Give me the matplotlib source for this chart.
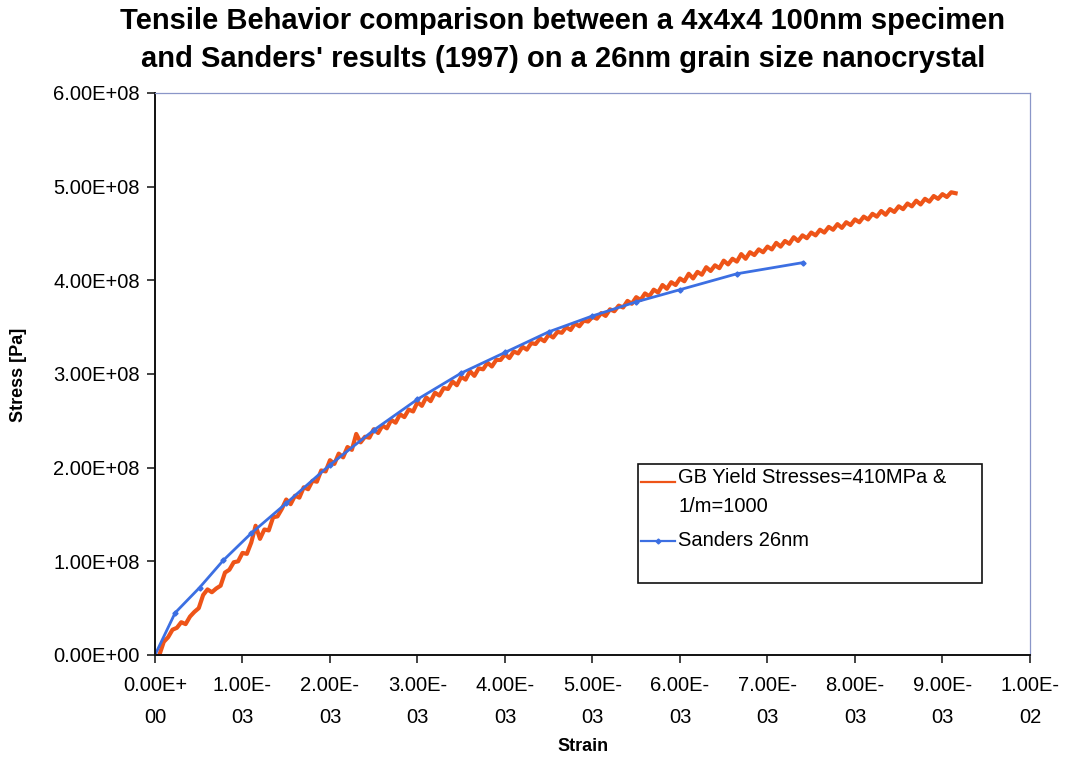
import matplotlib
matplotlib.use("Agg")
import matplotlib.pyplot as plt
from matplotlib.patches import Rectangle
from matplotlib.lines import Line2D

plt.rcParams['font.family'] = ['Liberation Sans', 'DejaVu Sans']

# simulated specimen (strain in 1e-3, stress in 1e8 Pa)
sim_strain = [
    0.05, 0.10, 0.15, 0.20, 0.25, 0.30, 0.35, 0.40, 0.45, 0.50,
    0.55, 0.60, 0.65, 0.70, 0.75, 0.80, 0.85, 0.90, 0.95, 1.00,
    1.05, 1.10, 1.15, 1.20, 1.25, 1.30, 1.35, 1.40, 1.45, 1.50,
    1.55, 1.60, 1.65, 1.70, 1.75, 1.80, 1.85, 1.90, 1.95, 2.00,
    2.05, 2.10, 2.15, 2.20, 2.25, 2.30, 2.35, 2.40, 2.45, 2.50,
    2.55, 2.60, 2.65, 2.70, 2.75, 2.80, 2.85, 2.90, 2.95, 3.00,
    3.05, 3.10, 3.15, 3.20, 3.25, 3.30, 3.35, 3.40, 3.45, 3.50,
    3.55, 3.60, 3.65, 3.70, 3.75, 3.80, 3.85, 3.90, 3.95, 4.00,
    4.05, 4.10, 4.15, 4.20, 4.25, 4.30, 4.35, 4.40, 4.45, 4.50,
    4.55, 4.60, 4.65, 4.70, 4.75, 4.80, 4.85, 4.90, 4.95, 5.00,
    5.05, 5.10, 5.15, 5.20, 5.25, 5.30, 5.35, 5.40, 5.45, 5.50,
    5.55, 5.60, 5.65, 5.70, 5.75, 5.80, 5.85, 5.90, 5.95, 6.00,
    6.05, 6.10, 6.15, 6.20, 6.25, 6.30, 6.35, 6.40, 6.45, 6.50,
    6.55, 6.60, 6.65, 6.70, 6.75, 6.80, 6.85, 6.90, 6.95, 7.00,
    7.05, 7.10, 7.15, 7.20, 7.25, 7.30, 7.35, 7.40, 7.45, 7.50,
    7.55, 7.60, 7.65, 7.70, 7.75, 7.80, 7.85, 7.90, 7.95, 8.00,
    8.05, 8.10, 8.15, 8.20, 8.25, 8.30, 8.35, 8.40, 8.45, 8.50,
    8.55, 8.60, 8.65, 8.70, 8.75, 8.80, 8.85, 8.90, 8.95, 9.00,
    9.05, 9.10, 9.15,
]
sim_stress = [
    0.00, 0.14, 0.19, 0.27, 0.29, 0.35, 0.33, 0.41, 0.46, 0.50,
    0.64, 0.70, 0.67, 0.71, 0.74, 0.88, 0.91, 0.99, 1.00, 1.09,
    1.08, 1.20, 1.38, 1.24, 1.34, 1.33, 1.47, 1.48, 1.56, 1.66,
    1.61, 1.70, 1.68, 1.79, 1.77, 1.86, 1.85, 1.97, 1.96, 2.08,
    2.04, 2.15, 2.11, 2.22, 2.19, 2.36, 2.27, 2.33, 2.32, 2.41,
    2.37, 2.45, 2.42, 2.51, 2.48, 2.57, 2.54, 2.62, 2.60, 2.70,
    2.66, 2.75, 2.71, 2.80, 2.77, 2.85, 2.84, 2.92, 2.88, 2.97,
    2.94, 3.03, 2.98, 3.06, 3.05, 3.12, 3.08, 3.15, 3.15, 3.21,
    3.17, 3.24, 3.22, 3.29, 3.26, 3.33, 3.32, 3.38, 3.35, 3.42,
    3.39, 3.45, 3.44, 3.50, 3.47, 3.54, 3.51, 3.57, 3.56, 3.61,
    3.59, 3.65, 3.62, 3.69, 3.67, 3.73, 3.71, 3.78, 3.75, 3.82,
    3.79, 3.86, 3.83, 3.90, 3.87, 3.95, 3.91, 3.98, 3.95, 4.02,
    3.99, 4.07, 4.02, 4.09, 4.06, 4.14, 4.10, 4.16, 4.13, 4.21,
    4.17, 4.23, 4.20, 4.28, 4.23, 4.30, 4.27, 4.33, 4.30, 4.36,
    4.33, 4.40, 4.36, 4.42, 4.39, 4.46, 4.42, 4.48, 4.45, 4.51,
    4.48, 4.54, 4.51, 4.57, 4.54, 4.60, 4.56, 4.62, 4.59, 4.65,
    4.62, 4.68, 4.65, 4.71, 4.68, 4.74, 4.70, 4.76, 4.73, 4.79,
    4.76, 4.82, 4.79, 4.85, 4.81, 4.87, 4.84, 4.90, 4.87, 4.92,
    4.89, 4.94, 4.93,
]

# Sanders (1997) experimental curve, 26nm grain size
sanders_strain = [0.0, 0.23, 0.51, 0.78, 1.10, 1.50, 2.00, 2.50, 3.00,
                  3.50, 4.00, 4.50, 5.00, 5.50, 6.00, 6.65, 7.41]
sanders_stress = [0.0, 0.45, 0.72, 1.01, 1.30, 1.62, 2.03, 2.40, 2.73,
                  3.01, 3.23, 3.45, 3.62, 3.77, 3.90, 4.07, 4.19]

sim_label = 'GB Yield Stresses=410MPa &\n1/m=1000'
sanders_label = 'Sanders 26nm'

y_ticks = [0, 1e8, 2e8, 3e8, 4e8, 5e8, 6e8]
y_ticklabels = ['0.00E+00', '1.00E+08', '2.00E+08', '3.00E+08',
                '4.00E+08', '5.00E+08', '6.00E+08']
x_ticks = [0, 0.001, 0.002, 0.003, 0.004, 0.005, 0.006, 0.007, 0.008,
           0.009, 0.01]
x_ticklabels = ['0.00E+\n00', '1.00E-\n03', '2.00E-\n03', '3.00E-\n03',
                '4.00E-\n03', '5.00E-\n03', '6.00E-\n03', '7.00E-\n03',
                '8.00E-\n03', '9.00E-\n03', '1.00E-\n02']

orange = '#EE5418'
blue = '#3C6FE2'

fig = plt.figure(figsize=(10.66, 7.61), dpi=100)
ax = fig.add_axes([0.1454, 0.1393, 0.8208, 0.7385])

ax.plot([s * 1e-3 for s in sim_strain], [s * 1e8 for s in sim_stress],
        color=orange, lw=3.0, solid_joinstyle='round')
ax.plot([s * 1e-3 for s in sanders_strain], [s * 1e8 for s in sanders_stress],
        color=blue, lw=2.0, marker='D', ms=2.6, mec=blue, mfc=blue)

ax.set_xlim(0, 0.01)
ax.set_ylim(0, 6e8)
ax.set_xticks(x_ticks)
ax.set_xticklabels(x_ticklabels, fontsize=14.5, linespacing=1.85)
ax.set_yticks(y_ticks)
ax.set_yticklabels(y_ticklabels, fontsize=14.5)
ax.tick_params(axis='both', direction='out', length=6, width=1.2, color='#222222')
ax.tick_params(axis='x', pad=9)
ax.tick_params(axis='y', pad=5)

for side in ['left', 'bottom']:
    ax.spines[side].set_color('#111111')
    ax.spines[side].set_linewidth(1.4)
for side in ['top', 'right']:
    ax.spines[side].set_color('#8A96C8')
    ax.spines[side].set_linewidth(0.9)

# legend drawn by hand: box with empty space at the bottom,
# first handle sitting on the first text line
ax.add_patch(Rectangle((0.552, 0.128), 0.393, 0.212, transform=ax.transAxes,
                       fill=False, ec='#111111', lw=1.2, zorder=5))
ax.add_line(Line2D([0.556, 0.594], [0.308, 0.308], transform=ax.transAxes,
                   color=orange, lw=1.6, zorder=6))
ax.add_line(Line2D([0.556, 0.594], [0.203, 0.203], transform=ax.transAxes,
                   color=blue, lw=1.6, zorder=6))
ax.add_line(Line2D([0.575], [0.203], transform=ax.transAxes, color=blue,
                   marker='D', ms=2.5, zorder=6))
ax.text(0.598, 0.333, sim_label, transform=ax.transAxes, ha='left', va='top',
        fontsize=14.5, linespacing=1.7, zorder=6)
ax.text(0.598, 0.203, sanders_label, transform=ax.transAxes, ha='left',
        va='center', fontsize=14.5, zorder=6)

fig.text(0.528, 0.972, 'Tensile Behavior comparison between a 4x4x4 100nm specimen',
         ha='center', va='center', fontsize=21, fontweight='bold')
fig.text(0.528, 0.922, "and Sanders' results (1997) on a 26nm grain size nanocrystal",
         ha='center', va='center', fontsize=21, fontweight='bold')
fig.text(0.017, 0.508, 'Stress [Pa]', rotation=90, ha='center', va='center',
         fontsize=13, fontweight='bold')
fig.text(0.547, 0.019, 'Strain', ha='center', va='center',
         fontsize=13, fontweight='bold')

fig.savefig('out.png', dpi=100)
